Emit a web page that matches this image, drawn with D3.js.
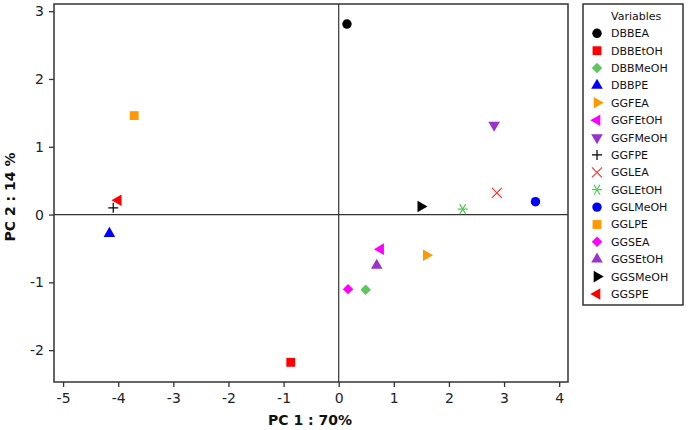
<!DOCTYPE html>
<html>
<head>
<meta charset="utf-8">
<script src="https://cdn.jsdelivr.net/npm/d3@7"></script>
<style>
  body { margin: 0; background: #fff; }
  text { font-family: "DejaVu Sans", Verdana, sans-serif; }
</style>
</head>
<body>
<div id="chart"></div>
<script>
// PCA scores
const variables = ["DBBEA", "DBBEtOH", "DBBMeOH", "DBBPE", "GGFEA", "GGFEtOH", "GGFMeOH", "GGFPE",
                   "GGLEA", "GGLEtOH", "GGLMeOH", "GGLPE", "GGSEA", "GGSEtOH", "GGSMeOH", "GGSPE"];
const pc1 = [0.15, -0.87, 0.49, -4.16, 1.59, 0.76, 2.82, -4.09, 2.87, 2.25, 3.57, -3.71, 0.17, 0.69, 1.49, -4.0];
const pc2 = [2.81, -2.18, -1.11, -0.28, -0.6, -0.51, 1.32, 0.1, 0.32, 0.08, 0.19, 1.46, -1.1, -0.75, 0.12, 0.21];
const markers = ["circle", "square", "diamond", "up", "right", "left", "down", "plus",
                 "x", "asterisk", "circle", "square", "diamond", "up", "right", "left"];
const colors = ["#000000", "#ff0000", "#5dc75d", "#0000ff", "#ff9900", "#ff00ff", "#9933cc", "#000000",
                "#ff3333", "#55cc55", "#0000ff", "#ff9900", "#ff00ff", "#9933cc", "#000000", "#ff0000"];
const xTicks = [-5, -4, -3, -2, -1, 0, 1, 2, 3, 4];
const yTicks = [-2, -1, 0, 1, 2, 3];

const W = 688, H = 430;
const plot = {left: 54, top: 4, right: 568, bottom: 382};

const svg = d3.select("#chart").append("svg")
    .attr("width", W)
    .attr("height", H);

const x = d3.scaleLinear().domain([-5.165, 4.16]).range([plot.left, plot.right]);
const y = d3.scaleLinear().domain([-2.47, 3.106]).range([plot.bottom, plot.top]);

// zero lines
svg.append("line")
    .attr("x1", x(0)).attr("x2", x(0))
    .attr("y1", plot.top).attr("y2", plot.bottom)
    .attr("stroke", "#333").attr("stroke-width", 1.2);
svg.append("line")
    .attr("x1", plot.left).attr("x2", plot.right)
    .attr("y1", y(0)).attr("y2", y(0))
    .attr("stroke", "#333").attr("stroke-width", 1.2);

// frame
svg.append("rect")
    .attr("x", plot.left).attr("y", plot.top)
    .attr("width", plot.right - plot.left)
    .attr("height", plot.bottom - plot.top)
    .attr("fill", "none")
    .attr("stroke", "#333")
    .attr("stroke-width", 1.5);

// axes (plain hyphen for negatives, like the original)
const fmt = d => String(d);
const xAxis = svg.append("g")
    .attr("transform", "translate(0," + plot.bottom + ")")
    .call(d3.axisBottom(x).tickValues(xTicks).tickFormat(fmt)
        .tickSize(5).tickSizeOuter(0).tickPadding(6));
const yAxis = svg.append("g")
    .attr("transform", "translate(" + plot.left + ",0)")
    .call(d3.axisLeft(y).tickValues(yTicks).tickFormat(fmt)
        .tickSize(5).tickSizeOuter(0).tickPadding(5));
[xAxis, yAxis].forEach(a => {
    a.select(".domain").remove();
    a.selectAll(".tick line").attr("stroke", "#333").attr("stroke-width", 1.3);
    a.selectAll("text")
        .style("font-size", "14px")
        .style("fill", "#222")
        .style("font-family", "DejaVu Sans, Verdana, sans-serif");
});

// axis titles
svg.append("text")
    .attr("x", 310).attr("y", 425)
    .attr("text-anchor", "middle")
    .style("font-size", "14px")
    .style("font-weight", "bold")
    .style("fill", "#111")
    .text("PC 1 : 70%");
svg.append("text")
    .attr("transform", "translate(15,197) rotate(-90)")
    .attr("text-anchor", "middle")
    .style("font-size", "14px")
    .style("font-weight", "bold")
    .style("fill", "#111")
    .text("PC 2 : 14 %");

// marker shapes
const strokeTypes = ["plus", "x", "asterisk"];
function markerPath(m) {
    if (m === "plus") return "M-5,0H5M0,-5V5";
    if (m === "x") return "M-5,-5L5,5M-5,5L5,-5";
    if (m === "asterisk") return "M-5,0H5M-3,-5L3,5M-3,5L3,-5";
    const types = {circle: d3.symbolCircle, square: d3.symbolSquare, diamond: d3.symbolSquare,
                   up: d3.symbolTriangle, right: d3.symbolTriangle, left: d3.symbolTriangle, down: d3.symbolTriangle};
    const sizes = {circle: 70, square: 78, diamond: 55, up: 58, right: 58, left: 58, down: 58};
    return d3.symbol().type(types[m]).size(sizes[m])();
}
const rotation = {right: 90, left: -90, down: 180, diamond: 45};

function drawMarker(g, m, c) {
    const p = g.append("path")
        .attr("d", markerPath(m))
        .attr("transform", rotation[m] ? "rotate(" + rotation[m] + ")" : null);
    if (strokeTypes.includes(m)) {
        p.attr("fill", "none").attr("stroke", c).attr("stroke-width", 1.2);
    } else {
        p.attr("fill", c);
    }
}

// points
const points = variables.map((v, i) => ({name: v, x: pc1[i], y: pc2[i], m: markers[i], c: colors[i]}));
svg.append("g").selectAll("g")
    .data(points)
    .join("g")
    .attr("transform", d => "translate(" + x(d.x) + "," + y(d.y) + ")")
    .each(function(d) { drawMarker(d3.select(this), d.m, d.c); });

// legend
const leg = svg.append("g");
leg.append("rect")
    .attr("x", 583).attr("y", 4)
    .attr("width", 100).attr("height", 301)
    .attr("fill", "#fff")
    .attr("stroke", "#333")
    .attr("stroke-width", 1.5);
leg.append("text")
    .attr("x", 611).attr("y", 20)
    .style("font-size", "11px")
    .style("fill", "#111")
    .text("Variables");
points.forEach((d, i) => {
    const yy = 33.3 + i * 17.38;
    const g = leg.append("g").attr("transform", "translate(597," + yy + ")");
    drawMarker(g, d.m, d.c);
    leg.append("text")
        .attr("x", 611).attr("y", yy + 4)
        .style("font-size", "11px")
        .style("fill", "#111")
        .text(d.name);
});
</script>
</body>
</html>
